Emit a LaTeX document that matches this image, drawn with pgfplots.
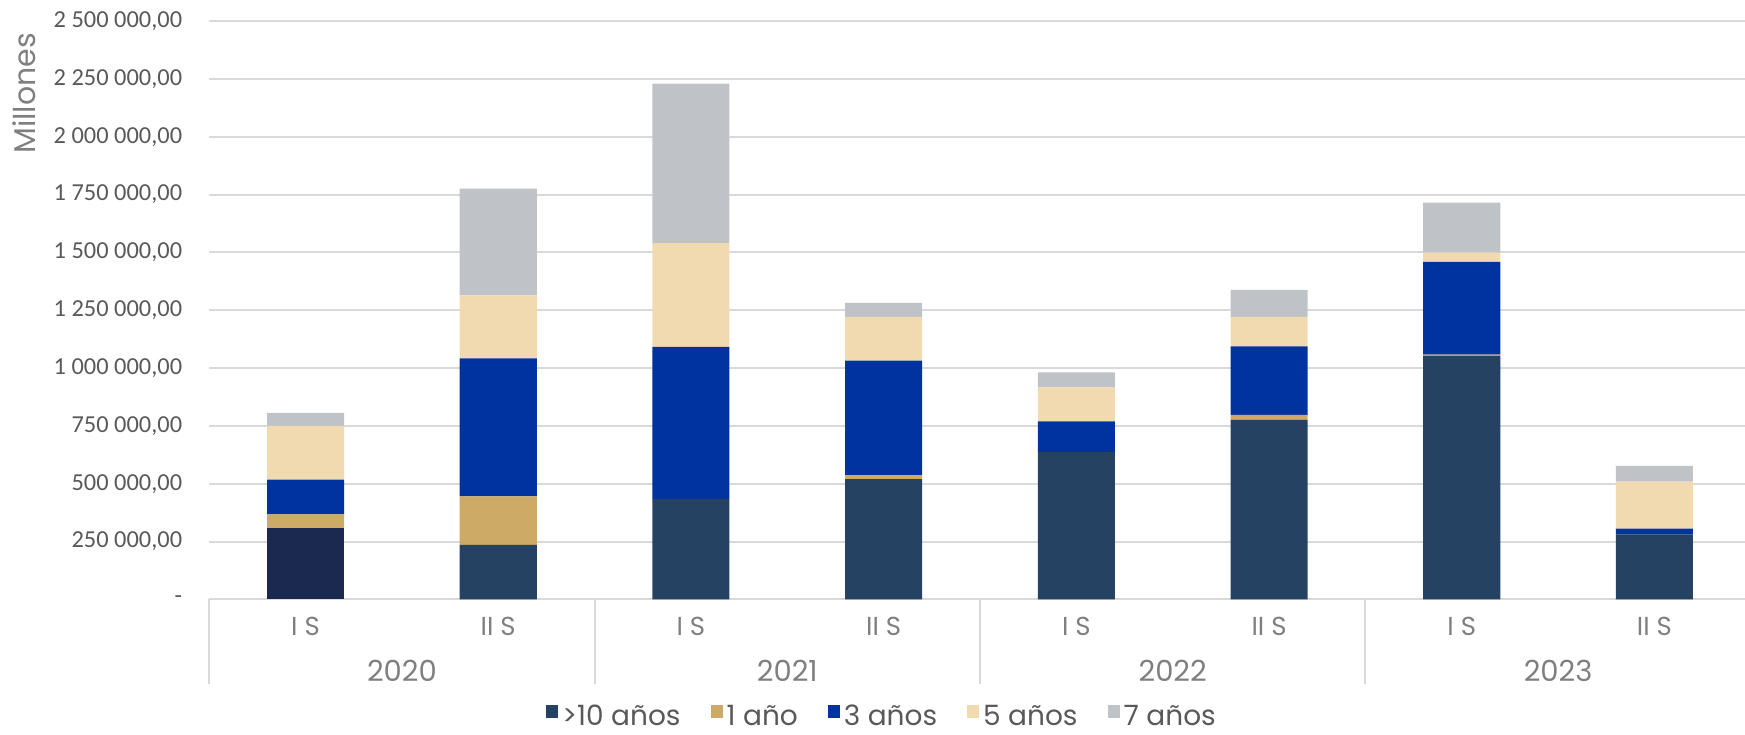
\documentclass[border=0pt]{standalone}
\usepackage{pgfplots}
\pgfplotsset{compat=1.18}
\usepackage{pgfplotstable}
\usepackage{fontspec}
\setmainfont{Poppins}
\newfontfamily\carlito{Carlito}
\definecolor{cdark}{HTML}{264263}
\definecolor{cdarker}{HTML}{1B2850}
\definecolor{cgold}{HTML}{CDAA66}
\definecolor{cblue}{HTML}{0033A0}
\definecolor{cbeige}{HTML}{F2DAB0}
\definecolor{cgrey}{HTML}{BFC3C7}
\definecolor{cgrid}{HTML}{D9D9D9}
\definecolor{ctick}{HTML}{595959}
\definecolor{cxlab}{HTML}{7F7F7F}
\pgfplotstableread{
x d1 d10 a1 a3 a5 a7
1 308000 0 60000 150000 232000 56000
2 0 236000 209000 597000 272000 461000
3 0 435000 0 656000 449000 689000
4 0 520000 16000 496000 189000 61000
5 0 637000 0 133000 146000 65000
6 0 776000 22000 296000 127000 117000
7 0 1053000 5000 401000 40000 216000
8 0 280000 0 26000 203000 68000
}\datatable
\begin{document}
\begin{tikzpicture}
\begin{axis}[name=ax, scale only axis, width=767.9pt, height=289.2pt,
  xmin=0.5, xmax=8.47, ymin=0, ymax=2500000,
  ybar stacked, bar width=0.4,
  axis line style={draw=none}, major tick length=0pt,
  ymajorgrids, grid style={color=cgrid, line width=1pt},
  scaled y ticks=false,
  ytick={0,250000,500000,750000,1000000,1250000,1500000,1750000,2000000,2250000,2500000},
  yticklabels={{-\hspace{7pt}},{250 000,00},{500 000,00},{750 000,00},{1 000 000,00},{1 250 000,00},{1 500 000,00},{1 750 000,00},{2 000 000,00},{2 250 000,00},{2 500 000,00}},
  yticklabel style={font=\carlito\fontsize{12.2}{14}\selectfont, text=ctick, anchor=east, xshift=-10pt},
  xtick={1,2,3,4,5,6,7,8},
  xticklabels={I S,II S,I S,II S,I S,II S,I S,II S},
  xticklabel style={font=\fontsize{13}{15}\selectfont, text=cxlab, anchor=center, yshift=-13.7pt},
  clip=false,
  legend columns=5,
  legend style={at={(0.4387,-0.2035)}, anchor=center, draw=none, fill=none,
    font=\fontsize{14}{16}\selectfont, text=ctick,
    /tikz/every even column/.append style={column sep=13pt}},
  legend image code/.code={\fill[#1] (0pt,-0.5pt) rectangle (6pt,6pt);},
]
\addplot[fill=cdarker, draw=none, forget plot] table[x=x,y=d1]{\datatable};
\addplot[fill=cdark, draw=none] table[x=x,y=d10]{\datatable};
\addlegendentry{>10 años}
\addplot[fill=cgold, draw=none] table[x=x,y=a1]{\datatable};
\addlegendentry{1 año}
\addplot[fill=cblue, draw=none] table[x=x,y=a3]{\datatable};
\addlegendentry{3 años}
\addplot[fill=cbeige, draw=none] table[x=x,y=a5]{\datatable};
\addlegendentry{5 años}
\addplot[fill=cgrey, draw=none] table[x=x,y=a7]{\datatable};
\addlegendentry{7 años}
\draw[cgrid, line width=1pt] (axis cs:0.5,0) -- ++(0pt,-42.4pt);
\draw[cgrid, line width=1pt] (axis cs:2.5,0) -- ++(0pt,-42.4pt);
\draw[cgrid, line width=1pt] (axis cs:4.5,0) -- ++(0pt,-42.4pt);
\draw[cgrid, line width=1pt] (axis cs:6.5,0) -- ++(0pt,-42.4pt);
\node[font=\fontsize{14.5}{16}\selectfont, text=cxlab] at ([yshift=-35.9pt]axis cs:1.5,0) {2020};
\node[font=\fontsize{14.5}{16}\selectfont, text=cxlab] at ([yshift=-35.9pt]axis cs:3.5,0) {2021};
\node[font=\fontsize{14.5}{16}\selectfont, text=cxlab] at ([yshift=-35.9pt]axis cs:5.5,0) {2022};
\node[font=\fontsize{14.5}{16}\selectfont, text=cxlab] at ([yshift=-35.9pt]axis cs:7.5,0) {2023};
\node[rotate=90, font=\fontsize{15}{17}\selectfont, text=cxlab] at ([xshift=-92.35pt, yshift=253pt]axis cs:0.5,0) {Millones};
\end{axis}
\pgfresetboundingbox
\path[use as bounding box] ([xshift=-104.6pt, yshift=-67.35pt]ax.south west) rectangle ([yshift=10.5pt]ax.north east);
\end{tikzpicture}
\end{document}
